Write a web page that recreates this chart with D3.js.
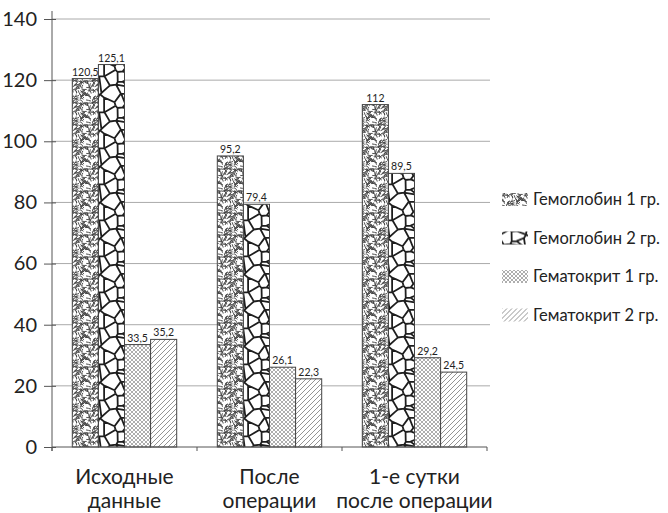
<!DOCTYPE html>
<html><head><meta charset="utf-8">
<script src="https://cdn.jsdelivr.net/npm/d3@7"></script>
<style>body{margin:0;background:#fff}svg{display:block}text{font-family:Lato,"Noto Sans",sans-serif;fill:#222}</style>
</head><body><div id="c"></div>
<script>
const categories = [["Исходные","данные"],["После","операции"],["1-е сутки","после операции"]];
const seriesNames = ["Гемоглобин 1 гр.","Гемоглобин 2 гр.","Гематокрит 1 гр.","Гематокрит 2 гр."];
const hb1 = [120.5, 95.2, 112];
const hb2 = [125.1, 79.4, 89.5];
const ht1 = [33.5, 26.1, 29.2];
const ht2 = [35.2, 22.3, 24.5];
const yTicks = [0,20,40,60,80,100,120,140];
const series = [hb1, hb2, ht1, ht2];

const W=668,H=513;
const svg=d3.select("#c").append("svg").attr("width",W).attr("height",H);
const defs=svg.append("defs");

// deterministic pseudo-noise for textures
let s=12345; function rnd(){ s=(s*1103515245+12345)%2147483648; return s/2147483648; }

// pattern 0: squiggly worms
(function(){
  const T=22;
  const p=defs.append("pattern").attr("id","p0").attr("patternUnits","userSpaceOnUse").attr("width",T).attr("height",T);
  p.append("rect").attr("width",T).attr("height",T).attr("fill","#fff");
  let d="";
  for(let i=0;i<85;i++){
    const x=rnd()*T,y=rnd()*T,a=rnd()*Math.PI*2,l=1.2+rnd()*1.2,b=a+(rnd()-0.5)*2.8;
    const x1=x+Math.cos(a)*l,y1=y+Math.sin(a)*l,x2=x1+Math.cos(b)*l,y2=y1+Math.sin(b)*l;
    for(const dx of [-T,0,T]) for(const dy of [-T,0,T])
      d+=`M${(x+dx).toFixed(2)},${(y+dy).toFixed(2)}Q${(x1+dx).toFixed(2)},${(y1+dy).toFixed(2)} ${(x2+dx).toFixed(2)},${(y2+dy).toFixed(2)}`;
  }
  p.append("path").attr("d",d).attr("fill","none").attr("stroke","#444").attr("stroke-width",0.95).attr("stroke-linecap","round");
})();
// pattern 1: network (voronoi)
(function(){
  const T=36;
  const p=defs.append("pattern").attr("id","p1").attr("patternUnits","userSpaceOnUse").attr("width",T).attr("height",T);
  p.append("rect").attr("width",T).attr("height",T).attr("fill","#fff");
  const base=[];for(let i=0;i<13;i++)base.push([rnd()*T,rnd()*T]);
  const pts=[];for(const dx of [-T,0,T])for(const dy of [-T,0,T])for(const b of base)pts.push([b[0]+dx,b[1]+dy]);
  const vor=d3.Delaunay.from(pts).voronoi([-T,-T,2*T,2*T]);
  p.append("path").attr("d",vor.render()).attr("fill","none").attr("stroke","#1e1e1e").attr("stroke-width",1.8);
})();
// pattern 2: fine crosshatch
(function(){
  const p=defs.append("pattern").attr("id","p2").attr("patternUnits","userSpaceOnUse").attr("width",4).attr("height",4);
  p.append("rect").attr("width",4).attr("height",4).attr("fill","#fff");
  p.append("path").attr("d","M0,0L4,4M4,0L0,4").attr("stroke","#999").attr("stroke-width",0.8);
})();
// pattern 3: diagonal
(function(){
  const p=defs.append("pattern").attr("id","p3").attr("patternUnits","userSpaceOnUse").attr("width",5).attr("height",5);
  p.append("rect").attr("width",5).attr("height",5).attr("fill","#fff");
  p.append("path").attr("d","M-1,6L6,-1M-1,1L1,-1M4,6L6,4").attr("stroke","#888").attr("stroke-width",0.9);
})();

const m={l:52,r:181,t:19,b:66};
const x=d3.scaleBand().domain(d3.range(categories.length)).range([m.l,W-m.r]).paddingInner(0.28).paddingOuter(0.14);
const x0=d3.scaleBand().domain(d3.range(categories.length)).range([m.l,W-m.r]);
const xs=d3.scaleBand().domain(d3.range(series.length)).range([0,x.bandwidth()]);
const y=d3.scaleLinear().domain([0,140]).range([H-m.b,m.t]);

// gridlines
svg.append("g").selectAll("line").data(yTicks.slice(1)).join("line")
  .attr("x1",m.l).attr("x2",W-m.r+3).attr("y1",d=>y(d)).attr("y2",d=>y(d))
  .attr("stroke","#aaa").attr("stroke-width",1);

// bars
series.forEach((vals,si)=>{
  svg.append("g").selectAll("rect").data(vals).join("rect")
    .attr("x",(d,i)=>x(i)+xs(si)).attr("width",xs.bandwidth())
    .attr("y",d=>y(d)).attr("height",d=>y(0)-y(d))
    .attr("fill",`url(#p${si})`).attr("stroke","#444").attr("stroke-width",1);
  svg.append("g").selectAll("text").data(vals).join("text")
    .attr("x",(d,i)=>x(i)+xs(si)+xs.bandwidth()/2).attr("y",d=>y(d)-3)
    .attr("text-anchor","middle").attr("font-size",10.5)
    .text(d=>String(d).replace(".",","));
});

// y axis
const ya=svg.append("g").attr("transform",`translate(${m.l},0)`)
  .call(d3.axisLeft(y).tickValues(yTicks).tickSize(6).tickPadding(9));
ya.select(".domain").attr("stroke","#555").attr("d",`M0,${y(0)+4}V${m.t-8}`);
ya.selectAll(".tick line").attr("stroke","#555").attr("x1",-8).attr("x2",4);
ya.selectAll(".tick text").attr("font-size",20).attr("font-family","Lato").attr("fill","#222");

// x axis
const xa=svg.append("g").attr("transform",`translate(0,${y(0)})`);
xa.append("line").attr("x1",m.l).attr("x2",W-m.r).attr("stroke","#555");
xa.selectAll("line.t").data(d3.range(categories.length+1)).join("line").attr("class","t")
  .attr("x1",d=>d<categories.length?x0(d):W-m.r).attr("x2",d=>d<categories.length?x0(d):W-m.r)
  .attr("y1",0).attr("y2",4).attr("stroke","#555");

categories.forEach((c,i)=>{
  const t=svg.append("text").attr("x",x0(i)+x0.bandwidth()/2).attr("text-anchor","middle").attr("font-size",21);
  c.forEach((line,j)=>t.append("tspan").attr("x",x0(i)+x0.bandwidth()/2).attr("y",484+j*24).text(line));
});

// legend
const lg=svg.append("g").attr("transform","translate(502,193)");
seriesNames.forEach((n,i)=>{
  const g=lg.append("g").attr("transform",`translate(0,${i*38.5})`);
  g.append("rect").attr("width",26).attr("height",13).attr("fill",`url(#p${i})`);
  g.append("text").attr("x",31).attr("y",12).attr("font-size",16.5).text(n);
});
</script></body></html>
